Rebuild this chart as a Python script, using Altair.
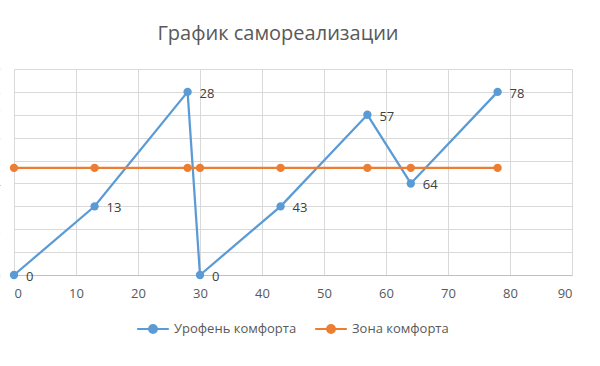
import altair as alt
import pandas as pd

x_vals = [0, 13, 28, 30, 43, 57, 64, 78]
level = [0, 3, 8, 0, 3, 7, 4, 8]
zone = [4.68, 4.68, 4.68, 4.68, 4.68, 4.68, 4.68, 4.68]
labels = ["0", "13", "28", "0", "43", "57", "64", "78"]
series = ["Урофень комфорта", "Зона комфорта"]
colors = ["#5b9bd5", "#ed7d31"]

rows = []
for i, xv in enumerate(x_vals):
    rows.append({"x": xv, "y": level[i], "s": series[0], "lab": labels[i], "o": i})
    rows.append({"x": xv, "y": zone[i], "s": series[1], "lab": "", "o": i})
df = pd.DataFrame(rows)

FONT = "Open Sans"
sym = "M-1,0H-0.25M0.25,0H1M0.25,0A0.25,0.25 0 1 1 -0.25,0A0.25,0.25 0 1 1 0.25,0Z"

xs = alt.X("x:Q", scale=alt.Scale(domain=[0, 90], nice=False),
           axis=alt.Axis(values=list(range(0, 91, 10)), title=None, grid=True,
                         gridColor="#d9d9d9", domainColor="#bfbfbf", ticks=False,
                         labelFont=FONT, labelFontSize=13, labelColor="#595959",
                         labelPadding=12))
ys = alt.Y("y:Q", scale=alt.Scale(domain=[0, 9], nice=False),
           axis=alt.Axis(values=list(range(0, 10)), title=None, grid=True,
                         gridColor="#d9d9d9", domain=False, ticks=False,
                         labelFont=FONT, labelFontSize=13, labelColor="#595959",
                         labelPadding=14))
color = alt.Color("s:N", scale=alt.Scale(domain=series, range=colors),
                  sort=series,
                  legend=alt.Legend(title=None, orient="none", direction="horizontal",
                                    legendX=122, legendY=243,
                                    symbolType=sym, symbolSize=1000,
                                    symbolStrokeWidth=2, columnPadding=14,
                                    labelFont=FONT, labelFontSize=13,
                                    labelColor="#595959", labelOffset=4))

base = alt.Chart(df)
lines = base.mark_line(strokeWidth=2.25).encode(x=xs, y=ys, color=color, order="o:Q",
                                                 detail="s:N")
pts = base.mark_point(filled=True, size=70, opacity=1).encode(x=xs, y=ys, color=color)
txt = base.transform_filter(alt.datum.s == series[0]).mark_text(
    align="left", dx=12, dy=2, font=FONT, fontSize=13, color="#404040"
).encode(x=xs, y=ys, text="lab:N")

chart = alt.layer(lines, pts, txt).properties(
    width=558, height=206,
    title=alt.TitleParams("График самореализации", font=FONT, fontSize=20,
                          fontWeight="normal", color="#595959", dx=-15, offset=19),
    autosize=alt.AutoSizeParams(type="none"),
    padding={"left": 14, "top": 69, "right": 28, "bottom": 91},
).configure_view(stroke=None)

chart.save("out.html", embed_options={"renderer": "svg", "actions": False})
